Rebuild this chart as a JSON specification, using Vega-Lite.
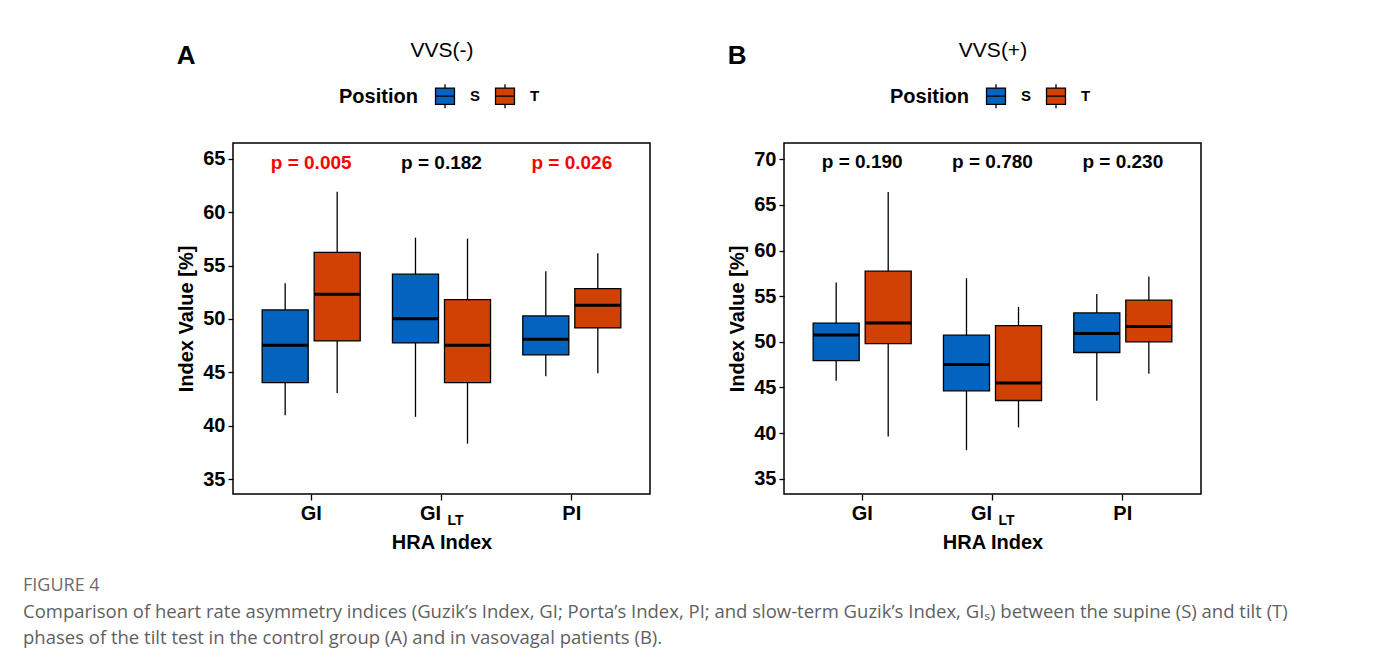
{
  "$schema": "https://vega.github.io/schema/vega-lite/v6.json",
  "background": "white",
  "padding": {"left": 23, "top": 38, "right": 5, "bottom": 5},
  "autosize": {"type": "pad"},
  "datasets": {
    "boxes": [
      {"panel": "A", "idx": "GI", "pos": "S", "lo": 41.0, "q1": 44.05, "med": 47.54, "q3": 50.85, "hi": 53.34},
      {"panel": "A", "idx": "GI", "pos": "T", "lo": 43.08, "q1": 47.95, "med": 52.31, "q3": 56.24, "hi": 61.91},
      {"panel": "A", "idx": "GI_LT", "pos": "S", "lo": 40.84, "q1": 47.76, "med": 50.03, "q3": 54.19, "hi": 57.61},
      {"panel": "A", "idx": "GI_LT", "pos": "T", "lo": 38.34, "q1": 44.05, "med": 47.54, "q3": 51.81, "hi": 57.52},
      {"panel": "A", "idx": "PI", "pos": "S", "lo": 44.64, "q1": 46.64, "med": 48.10, "q3": 50.29, "hi": 54.47},
      {"panel": "A", "idx": "PI", "pos": "T", "lo": 44.93, "q1": 49.16, "med": 51.29, "q3": 52.84, "hi": 56.15},
      {"panel": "B", "idx": "GI", "pos": "S", "lo": 45.73, "q1": 47.95, "med": 50.76, "q3": 52.04, "hi": 56.49},
      {"panel": "B", "idx": "GI", "pos": "T", "lo": 39.63, "q1": 49.81, "med": 52.05, "q3": 57.74, "hi": 66.42},
      {"panel": "B", "idx": "GI_LT", "pos": "S", "lo": 38.14, "q1": 44.63, "med": 47.51, "q3": 50.73, "hi": 56.97},
      {"panel": "B", "idx": "GI_LT", "pos": "T", "lo": 40.62, "q1": 43.57, "med": 45.48, "q3": 51.78, "hi": 53.83},
      {"panel": "B", "idx": "PI", "pos": "S", "lo": 43.54, "q1": 48.83, "med": 50.91, "q3": 53.17, "hi": 55.25},
      {"panel": "B", "idx": "PI", "pos": "T", "lo": 46.49, "q1": 50.0, "med": 51.69, "q3": 54.56, "hi": 57.15}
    ],
    "pvals": [
      {"panel": "A", "idx": "GI", "p": 0.005, "label": "p = 0.005"},
      {"panel": "A", "idx": "GI_LT", "p": 0.182, "label": "p = 0.182"},
      {"panel": "A", "idx": "PI", "p": 0.026, "label": "p = 0.026"},
      {"panel": "B", "idx": "GI", "p": 0.19, "label": "p = 0.190"},
      {"panel": "B", "idx": "GI_LT", "p": 0.78, "label": "p = 0.780"},
      {"panel": "B", "idx": "PI", "p": 0.23, "label": "p = 0.230"}
    ],
    "sub": [{"idx": "GI_LT", "t": "LT"}]
  },
  "title": {
    "text": "FIGURE 4",
    "subtitle": [
      "Comparison of heart rate asymmetry indices (Guzik’s Index, GI; Porta’s Index, PI; and slow-term Guzik’s Index, GIₛ) between the supine (S) and tilt (T)",
      "phases of the tilt test in the control group (A) and in vasovagal patients (B)."
    ],
    "orient": "bottom",
    "anchor": "start",
    "frame": "bounds",
    "dx": -153,
    "offset": 24,
    "font": "Open Sans",
    "fontSize": 18,
    "fontWeight": "normal",
    "color": "#6b6b6b",
    "subtitleFont": "Open Sans",
    "subtitleFontSize": 18.5,
    "subtitleColor": "#5f5f5f",
    "subtitleLineHeight": 26,
    "subtitlePadding": 8
  },
  "spacing": 134,
  "bounds": "flush",
  "hconcat": [
    {
      "width": 417,
      "height": 351,
      "title": {"text": "A", "anchor": "start", "frame": "bounds", "font": "Liberation Sans", "fontSize": 26, "fontWeight": "bold", "color": "black", "dy": 34},
      "layer": [
        {
          "data": {"name": "boxes"},
          "transform": [{"filter": "datum.panel == 'A'"}],
          "mark": {"type": "rule", "color": "black", "strokeWidth": 1.3},
          "encoding": {
            "x": {"field": "idx", "type": "nominal", "axis": null},
            "xOffset": {"field": "pos", "type": "nominal"},
            "y": {"field": "lo", "type": "quantitative", "title": "Index Value [%]"},
            "y2": {"field": "hi"}
          }
        },
        {
          "data": {"name": "boxes"},
          "transform": [{"filter": "datum.panel == 'A'"}],
          "mark": {"type": "bar", "stroke": "black", "strokeWidth": 1.3, "opacity": 1},
          "encoding": {
            "x": {"field": "idx", "type": "nominal", "title": "HRA Index",
              "scale": {"domain": ["GI", "GI_LT", "PI"], "paddingInner": 0, "paddingOuter": 0.1},
              "axis": {"orient": "bottom", "labelAngle": 0, "domain": false, "tickSize": 6, "labelPadding": 3, "titlePadding": 9,
                "labelExpr": "datum.value == 'GI_LT' ? 'GI' : datum.value",
                "labelOffset": {"condition": {"test": "datum.value == 'GI_LT'", "value": -11}, "value": 0}}},
            "xOffset": {"field": "pos", "type": "nominal", "scale": {"domain": ["S", "T"], "paddingInner": 0.115, "paddingOuter": 0.31}},
            "y": {"field": "q1", "type": "quantitative", "title": "Index Value [%]",
              "scale": {"domain": [33.62, 66.47], "nice": false, "zero": false},
              "axis": {"values": [35, 40, 45, 50, 55, 60, 65], "domain": false, "tickSize": 5, "labelPadding": 3, "titlePadding": 6}},
            "y2": {"field": "q3"},
            "color": {"field": "pos", "type": "nominal",
              "scale": {"domain": ["S", "T"], "range": ["#0463BF", "#D24104"]},
              "legend": {"orient": "none", "legendX": 106, "legendY": -60, "direction": "horizontal", "title": "Position",
                "titleOrient": "left", "titleAnchor": "middle", "titleBaseline": "middle",
                "titleFont": "Liberation Sans", "titleFontSize": 20, "titleFontWeight": "bold", "titleColor": "black", "titlePadding": 14,
                "labelFont": "Liberation Sans", "labelFontSize": 15, "labelFontWeight": "bold", "labelColor": "black", "labelOffset": 12,
                "columnPadding": 11, "padding": 0,
                "symbolType": "M-0.79,-0.68H0.79V0.68H-0.79Z M-0.79,0H0.79 M0,-0.68V-1 M0,0.68V1",
                "symbolSize": 576, "symbolStrokeColor": "black", "symbolStrokeWidth": 1.3, "symbolOpacity": 1}}
          }
        },
        {
          "data": {"name": "boxes"},
          "transform": [{"filter": "datum.panel == 'A'"}],
          "mark": {"type": "tick", "color": "black", "thickness": 3, "size": 46, "opacity": 1},
          "encoding": {
            "x": {"field": "idx", "type": "nominal", "axis": null},
            "xOffset": {"field": "pos", "type": "nominal"},
            "y": {"field": "med", "type": "quantitative", "title": "Index Value [%]"}
          }
        },
        {
          "data": {"name": "pvals"},
          "transform": [{"filter": "datum.panel == 'A'"}],
          "mark": {"type": "text", "font": "Liberation Sans", "fontSize": 19, "fontWeight": "bold", "baseline": "alphabetic"},
          "encoding": {
            "x": {"field": "idx", "type": "nominal",
              "axis": {"orient": "top", "title": "VVS(-)", "labels": false, "ticks": false, "domain": false,
                "titleFont": "Liberation Sans", "titleFontWeight": "normal", "titleFontSize": 21, "titlePadding": 83}},
            "y": {"datum": 64.06},
            "text": {"field": "label"},
            "color": {"condition": {"test": "datum.p < 0.05", "value": "#FF0000"}, "value": "black"}
          }
        },
        {
          "data": {"name": "sub"},
          "mark": {"type": "text", "font": "Liberation Sans", "fontSize": 14, "fontWeight": "bold", "align": "left", "baseline": "alphabetic", "dx": 6, "dy": 31, "color": "black"},
          "encoding": {
            "x": {"field": "idx", "type": "nominal", "axis": null},
            "y": {"datum": 33.62},
            "text": {"field": "t"}
          }
        }
      ],
      "resolve": {"axis": {"x": "independent"}}
    },
    {
      "width": 417,
      "height": 351,
      "title": {"text": "B", "anchor": "start", "frame": "bounds", "font": "Liberation Sans", "fontSize": 26, "fontWeight": "bold", "color": "black", "dy": 34},
      "layer": [
        {
          "data": {"name": "boxes"},
          "transform": [{"filter": "datum.panel == 'B'"}],
          "mark": {"type": "rule", "color": "black", "strokeWidth": 1.3},
          "encoding": {
            "x": {"field": "idx", "type": "nominal", "axis": null},
            "xOffset": {"field": "pos", "type": "nominal"},
            "y": {"field": "lo", "type": "quantitative", "title": "Index Value [%]"},
            "y2": {"field": "hi"}
          }
        },
        {
          "data": {"name": "boxes"},
          "transform": [{"filter": "datum.panel == 'B'"}],
          "mark": {"type": "bar", "stroke": "black", "strokeWidth": 1.3, "opacity": 1},
          "encoding": {
            "x": {"field": "idx", "type": "nominal", "title": "HRA Index",
              "scale": {"domain": ["GI", "GI_LT", "PI"], "paddingInner": 0, "paddingOuter": 0.1},
              "axis": {"orient": "bottom", "labelAngle": 0, "domain": false, "tickSize": 6, "labelPadding": 3, "titlePadding": 9,
                "labelExpr": "datum.value == 'GI_LT' ? 'GI' : datum.value",
                "labelOffset": {"condition": {"test": "datum.value == 'GI_LT'", "value": -11}, "value": 0}}},
            "xOffset": {"field": "pos", "type": "nominal", "scale": {"domain": ["S", "T"], "paddingInner": 0.115, "paddingOuter": 0.31}},
            "y": {"field": "q1", "type": "quantitative", "title": "Index Value [%]",
              "scale": {"domain": [33.33, 71.78], "nice": false, "zero": false},
              "axis": {"values": [35, 40, 45, 50, 55, 60, 65, 70], "domain": false, "tickSize": 5, "labelPadding": 3, "titlePadding": 6}},
            "y2": {"field": "q3"},
            "color": {"field": "pos", "type": "nominal",
              "scale": {"domain": ["S", "T"], "range": ["#0463BF", "#D24104"]},
              "legend": {"orient": "none", "legendX": 106, "legendY": -60, "direction": "horizontal", "title": "Position",
                "titleOrient": "left", "titleAnchor": "middle", "titleBaseline": "middle",
                "titleFont": "Liberation Sans", "titleFontSize": 20, "titleFontWeight": "bold", "titleColor": "black", "titlePadding": 14,
                "labelFont": "Liberation Sans", "labelFontSize": 15, "labelFontWeight": "bold", "labelColor": "black", "labelOffset": 12,
                "columnPadding": 11, "padding": 0,
                "symbolType": "M-0.79,-0.68H0.79V0.68H-0.79Z M-0.79,0H0.79 M0,-0.68V-1 M0,0.68V1",
                "symbolSize": 576, "symbolStrokeColor": "black", "symbolStrokeWidth": 1.3, "symbolOpacity": 1}}
          }
        },
        {
          "data": {"name": "boxes"},
          "transform": [{"filter": "datum.panel == 'B'"}],
          "mark": {"type": "tick", "color": "black", "thickness": 3, "size": 46, "opacity": 1},
          "encoding": {
            "x": {"field": "idx", "type": "nominal", "axis": null},
            "xOffset": {"field": "pos", "type": "nominal"},
            "y": {"field": "med", "type": "quantitative", "title": "Index Value [%]"}
          }
        },
        {
          "data": {"name": "pvals"},
          "transform": [{"filter": "datum.panel == 'B'"}],
          "mark": {"type": "text", "font": "Liberation Sans", "fontSize": 19, "fontWeight": "bold", "baseline": "alphabetic"},
          "encoding": {
            "x": {"field": "idx", "type": "nominal",
              "axis": {"orient": "top", "title": "VVS(+)", "labels": false, "ticks": false, "domain": false,
                "titleFont": "Liberation Sans", "titleFontWeight": "normal", "titleFontSize": 21, "titlePadding": 83}},
            "y": {"datum": 69.08},
            "text": {"field": "label"},
            "color": {"condition": {"test": "datum.p < 0.05", "value": "#FF0000"}, "value": "black"}
          }
        },
        {
          "data": {"name": "sub"},
          "mark": {"type": "text", "font": "Liberation Sans", "fontSize": 14, "fontWeight": "bold", "align": "left", "baseline": "alphabetic", "dx": 6, "dy": 31, "color": "black"},
          "encoding": {
            "x": {"field": "idx", "type": "nominal", "axis": null},
            "y": {"datum": 33.33},
            "text": {"field": "t"}
          }
        }
      ],
      "resolve": {"axis": {"x": "independent"}}
    }
  ],
  "resolve": {
    "scale": {"x": "independent", "y": "independent", "xOffset": "independent", "color": "independent"},
    "legend": {"color": "independent"}
  },
  "config": {
    "view": {"stroke": "black", "strokeWidth": 1.5},
    "axis": {
      "grid": false,
      "tickColor": "black",
      "tickWidth": 1.3,
      "labelColor": "black",
      "titleColor": "black",
      "labelFont": "Liberation Sans",
      "titleFont": "Liberation Sans",
      "labelFontWeight": "bold",
      "titleFontWeight": "bold",
      "labelFontSize": 20,
      "titleFontSize": 20
    }
  }
}
